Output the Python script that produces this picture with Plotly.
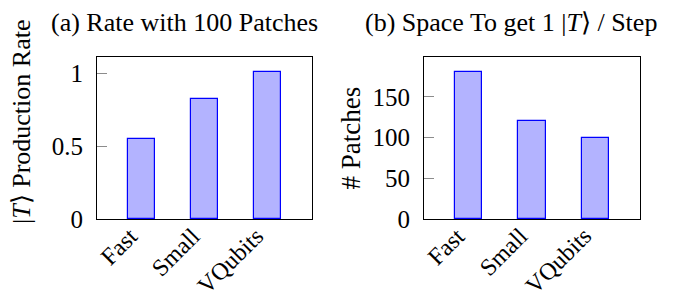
import plotly.graph_objects as go

categories = ["Fast", "Small", "VQubits"]
rate_values = [0.55, 0.82, 1.01]
patch_values = [181, 121, 99]
rate_ticks = [0, 0.5, 1]
rate_ticktext = ["0", "0.5", "1"]
patch_ticks = [0, 50, 100, 150]
patch_ticktext = ["0", "50", "100", "150"]

# page body has an 8px margin, so the figure is drawn offset by (8, 8)
OFF = 8
W, H = 678 - OFF, 301 - OFF
FONT = "Liberation Serif"
xs = list(range(len(categories)))

def px(x):
    return (x - OFF) / W

def py(y):
    return 1 - (y - OFF) / H

fig = go.Figure()
bar_style = dict(marker=dict(color="rgb(179,179,255)", line=dict(color="rgb(0,0,255)", width=1.2)),
                 width=0.43, showlegend=False, hoverinfo="skip")
fig.add_trace(go.Bar(x=xs, y=rate_values, xaxis="x", yaxis="y", **bar_style))
fig.add_trace(go.Bar(x=xs, y=patch_values, xaxis="x2", yaxis="y2", **bar_style))

common_x = dict(range=[-0.7, 2.7], tickvals=xs, showticklabels=False,
                showline=True, linecolor="black", linewidth=1, mirror=True, ticks="",
                showgrid=False, zeroline=False, automargin=False)
common_y = dict(showline=True, linecolor="black", linewidth=1, mirror=True, ticks="inside",
                ticklen=10, tickcolor="#8c8c8c", tickwidth=1, showgrid=False, zeroline=False,
                tickfont=dict(family=FONT, size=25, color="black"), ticklabelstandoff=8,
                automargin=False)

fig.update_layout(
    width=W, height=H, margin=dict(l=0, r=0, t=0, b=0, autoexpand=False),
    paper_bgcolor="white", plot_bgcolor="white",
    xaxis=dict(domain=[px(97), px(312)], anchor="y", **common_x),
    yaxis=dict(domain=[py(219), py(57)], anchor="x", range=[0, 1.111],
               tickvals=rate_ticks, ticktext=rate_ticktext, **common_y),
    xaxis2=dict(domain=[px(424), px(640)], anchor="y2", **common_x),
    yaxis2=dict(domain=[py(219), py(57)], anchor="x2", range=[0, 199.1],
                tickvals=patch_ticks, ticktext=patch_ticktext, **common_y),
    bargap=0,
)

# category labels, rotated, placed at the category positions of each x axis
cat_font = dict(family=FONT, size=24, color="black")
for xref in ["x", "x2"]:
    for i, name in enumerate(categories):
        fig.add_annotation(text=name, x=xs[i], xref=xref, y=py(222), yref="paper",
                           xanchor="right", yanchor="top", textangle=-45, showarrow=False,
                           xshift=2, borderpad=0, font=cat_font)

ann_font = dict(family=FONT, size=26, color="black")
fig.add_annotation(text="(a) Rate with 100 Patches", x=px(184), y=py(22), xref="paper", yref="paper",
                   xanchor="center", yanchor="middle", showarrow=False, font=ann_font)
fig.add_annotation(text="(b) Space To get 1 |<i>T</i>\u27e9 / Step", x=px(511), y=py(22), xref="paper",
                   yref="paper", xanchor="center", yanchor="middle", showarrow=False, font=ann_font)
lab_font = dict(family=FONT, size=26, color="black")
fig.add_annotation(text="|<i>T</i>\u27e9 Production Rate", x=px(21), y=py(122), xref="paper", yref="paper",
                   xanchor="center", yanchor="middle", textangle=-90, showarrow=False, font=lab_font)
fig.add_annotation(text="# Patches", x=px(350), y=py(138.5), xref="paper", yref="paper",
                   xanchor="center", yanchor="middle", textangle=-90, showarrow=False,
                   font=dict(family=FONT, size=27, color="black"))

fig.write_html("out.html")
